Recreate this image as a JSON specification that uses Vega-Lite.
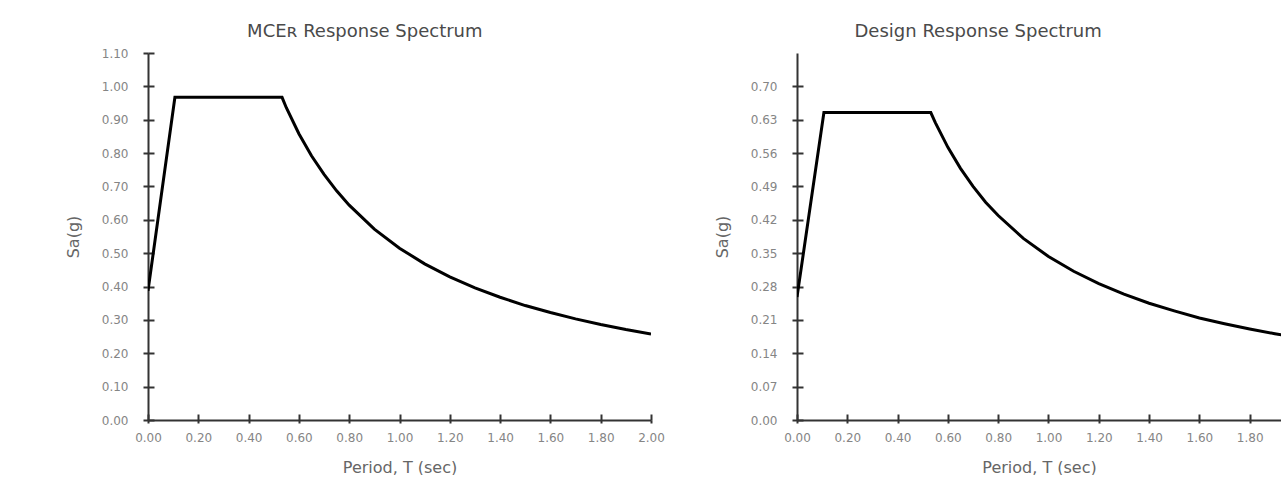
{
  "$schema": "https://vega.github.io/schema/vega-lite/v6.json",
  "background": "white",
  "padding": {"left": 65, "top": 23, "right": 0, "bottom": 0},
  "spacing": 49,
  "datasets": {
    "mce": [
      {"T": 0.0, "Sa": 0.387}, {"T": 0.107, "Sa": 0.967}, {"T": 0.533, "Sa": 0.967},
      {"T": 0.55, "Sa": 0.936}, {"T": 0.6, "Sa": 0.858}, {"T": 0.65, "Sa": 0.792},
      {"T": 0.7, "Sa": 0.736}, {"T": 0.75, "Sa": 0.687}, {"T": 0.8, "Sa": 0.644},
      {"T": 0.9, "Sa": 0.572}, {"T": 1.0, "Sa": 0.515}, {"T": 1.1, "Sa": 0.468},
      {"T": 1.2, "Sa": 0.429}, {"T": 1.3, "Sa": 0.396}, {"T": 1.4, "Sa": 0.368},
      {"T": 1.5, "Sa": 0.343}, {"T": 1.6, "Sa": 0.322}, {"T": 1.7, "Sa": 0.303},
      {"T": 1.8, "Sa": 0.286}, {"T": 1.9, "Sa": 0.271}, {"T": 2.0, "Sa": 0.258}
    ],
    "design": [
      {"T": 0.0, "Sa": 0.258}, {"T": 0.107, "Sa": 0.645}, {"T": 0.532, "Sa": 0.645},
      {"T": 0.55, "Sa": 0.624}, {"T": 0.6, "Sa": 0.572}, {"T": 0.65, "Sa": 0.528},
      {"T": 0.7, "Sa": 0.490}, {"T": 0.75, "Sa": 0.457}, {"T": 0.8, "Sa": 0.429},
      {"T": 0.9, "Sa": 0.381}, {"T": 1.0, "Sa": 0.343}, {"T": 1.1, "Sa": 0.312},
      {"T": 1.2, "Sa": 0.286}, {"T": 1.3, "Sa": 0.264}, {"T": 1.4, "Sa": 0.245},
      {"T": 1.5, "Sa": 0.229}, {"T": 1.6, "Sa": 0.214}, {"T": 1.7, "Sa": 0.202},
      {"T": 1.8, "Sa": 0.191}, {"T": 1.9, "Sa": 0.181}, {"T": 2.0, "Sa": 0.172}
    ]
  },
  "config": {
    "view": {"stroke": null},
    "font": "DejaVu Sans",
    "axis": {
      "grid": false,
      "domainColor": "#333333",
      "domainWidth": 2,
      "tickColor": "#333333",
      "tickWidth": 2,
      "labelColor": "#858585",
      "labelFont": "DejaVu Sans",
      "labelFontSize": 12,
      "labelFlush": false,
      "labelOverlap": false,
      "titleColor": "#666666",
      "titleFont": "DejaVu Sans",
      "titleFontSize": 16,
      "titleFontWeight": "normal"
    },
    "title": {"font": "DejaVu Sans", "fontSize": 18, "fontWeight": "normal", "color": "#4a4a4a"}
  },
  "hconcat": [
    {
      "width": 503,
      "height": 367,
      "title": {"text": "MCEʀ Response Spectrum", "frame": "bounds", "anchor": "middle", "offset": 6},
      "data": {"name": "mce"},
      "layer": [
        {
          "mark": {"type": "line", "color": "#000000", "strokeWidth": 3, "clip": true},
          "encoding": {
            "x": {"field": "T", "type": "quantitative",
              "scale": {"domain": [0, 2], "nice": false, "zero": true},
              "axis": {"title": "Period, T (sec)", "values": [0, 0.2, 0.4, 0.6, 0.8, 1.0, 1.2, 1.4, 1.6, 1.8, 2.0], "format": ".2f", "tickSize": 3, "labelPadding": 9, "titlePadding": 16}},
            "y": {"field": "Sa", "type": "quantitative",
              "scale": {"domain": [0, 1.1], "nice": false},
              "axis": {"title": "Sa(g)", "values": [0, 0.1, 0.2, 0.3, 0.4, 0.5, 0.6, 0.7, 0.8, 0.9, 1.0, 1.1], "format": ".2f", "tickSize": 5, "labelPadding": 15, "titlePadding": 20}}
          }
        },
        {
          "mark": {"type": "line", "opacity": 0},
          "encoding": {
            "x": {"field": "T", "type": "quantitative",
              "axis": {"orient": "bottom", "offset": -6, "tickSize": 6, "labels": false, "domain": false, "title": null, "values": [0, 0.2, 0.4, 0.6, 0.8, 1.0, 1.2, 1.4, 1.6, 1.8, 2.0]}},
            "y": {"field": "Sa", "type": "quantitative",
              "axis": {"orient": "left", "offset": -6, "tickSize": 6, "labels": false, "domain": false, "title": null, "values": [0, 0.1, 0.2, 0.3, 0.4, 0.5, 0.6, 0.7, 0.8, 0.9, 1.0, 1.1]}}
          }
        }
      ],
      "resolve": {"axis": {"x": "independent", "y": "independent"}}
    },
    {
      "width": 484,
      "height": 367,
      "title": {"text": "Design Response Spectrum", "frame": "bounds", "anchor": "middle", "offset": 12, "dx": -29},
      "data": {"name": "design"},
      "layer": [
        {
          "mark": {"type": "line", "color": "#000000", "strokeWidth": 3, "clip": true},
          "encoding": {
            "x": {"field": "T", "type": "quantitative",
              "scale": {"domain": [0, 1.9245], "nice": false, "zero": true},
              "axis": {"title": "Period, T (sec)", "values": [0, 0.2, 0.4, 0.6, 0.8, 1.0, 1.2, 1.4, 1.6, 1.8], "format": ".2f", "tickSize": 3, "labelPadding": 9, "titlePadding": 16}},
            "y": {"field": "Sa", "type": "quantitative",
              "scale": {"domain": [0, 0.77], "nice": false},
              "axis": {"title": "Sa(g)", "values": [0, 0.07, 0.14, 0.21, 0.28, 0.35, 0.42, 0.49, 0.56, 0.63, 0.70], "format": ".2f", "tickSize": 5, "labelPadding": 15, "titlePadding": 20}}
          }
        },
        {
          "mark": {"type": "line", "opacity": 0},
          "encoding": {
            "x": {"field": "T", "type": "quantitative",
              "axis": {"orient": "bottom", "offset": -6, "tickSize": 6, "labels": false, "domain": false, "title": null, "values": [0, 0.2, 0.4, 0.6, 0.8, 1.0, 1.2, 1.4, 1.6, 1.8]}},
            "y": {"field": "Sa", "type": "quantitative",
              "axis": {"orient": "left", "offset": -6, "tickSize": 6, "labels": false, "domain": false, "title": null, "values": [0, 0.07, 0.14, 0.21, 0.28, 0.35, 0.42, 0.49, 0.56, 0.63, 0.70]}}
          }
        }
      ],
      "resolve": {"axis": {"x": "independent", "y": "independent"}}
    }
  ]
}
